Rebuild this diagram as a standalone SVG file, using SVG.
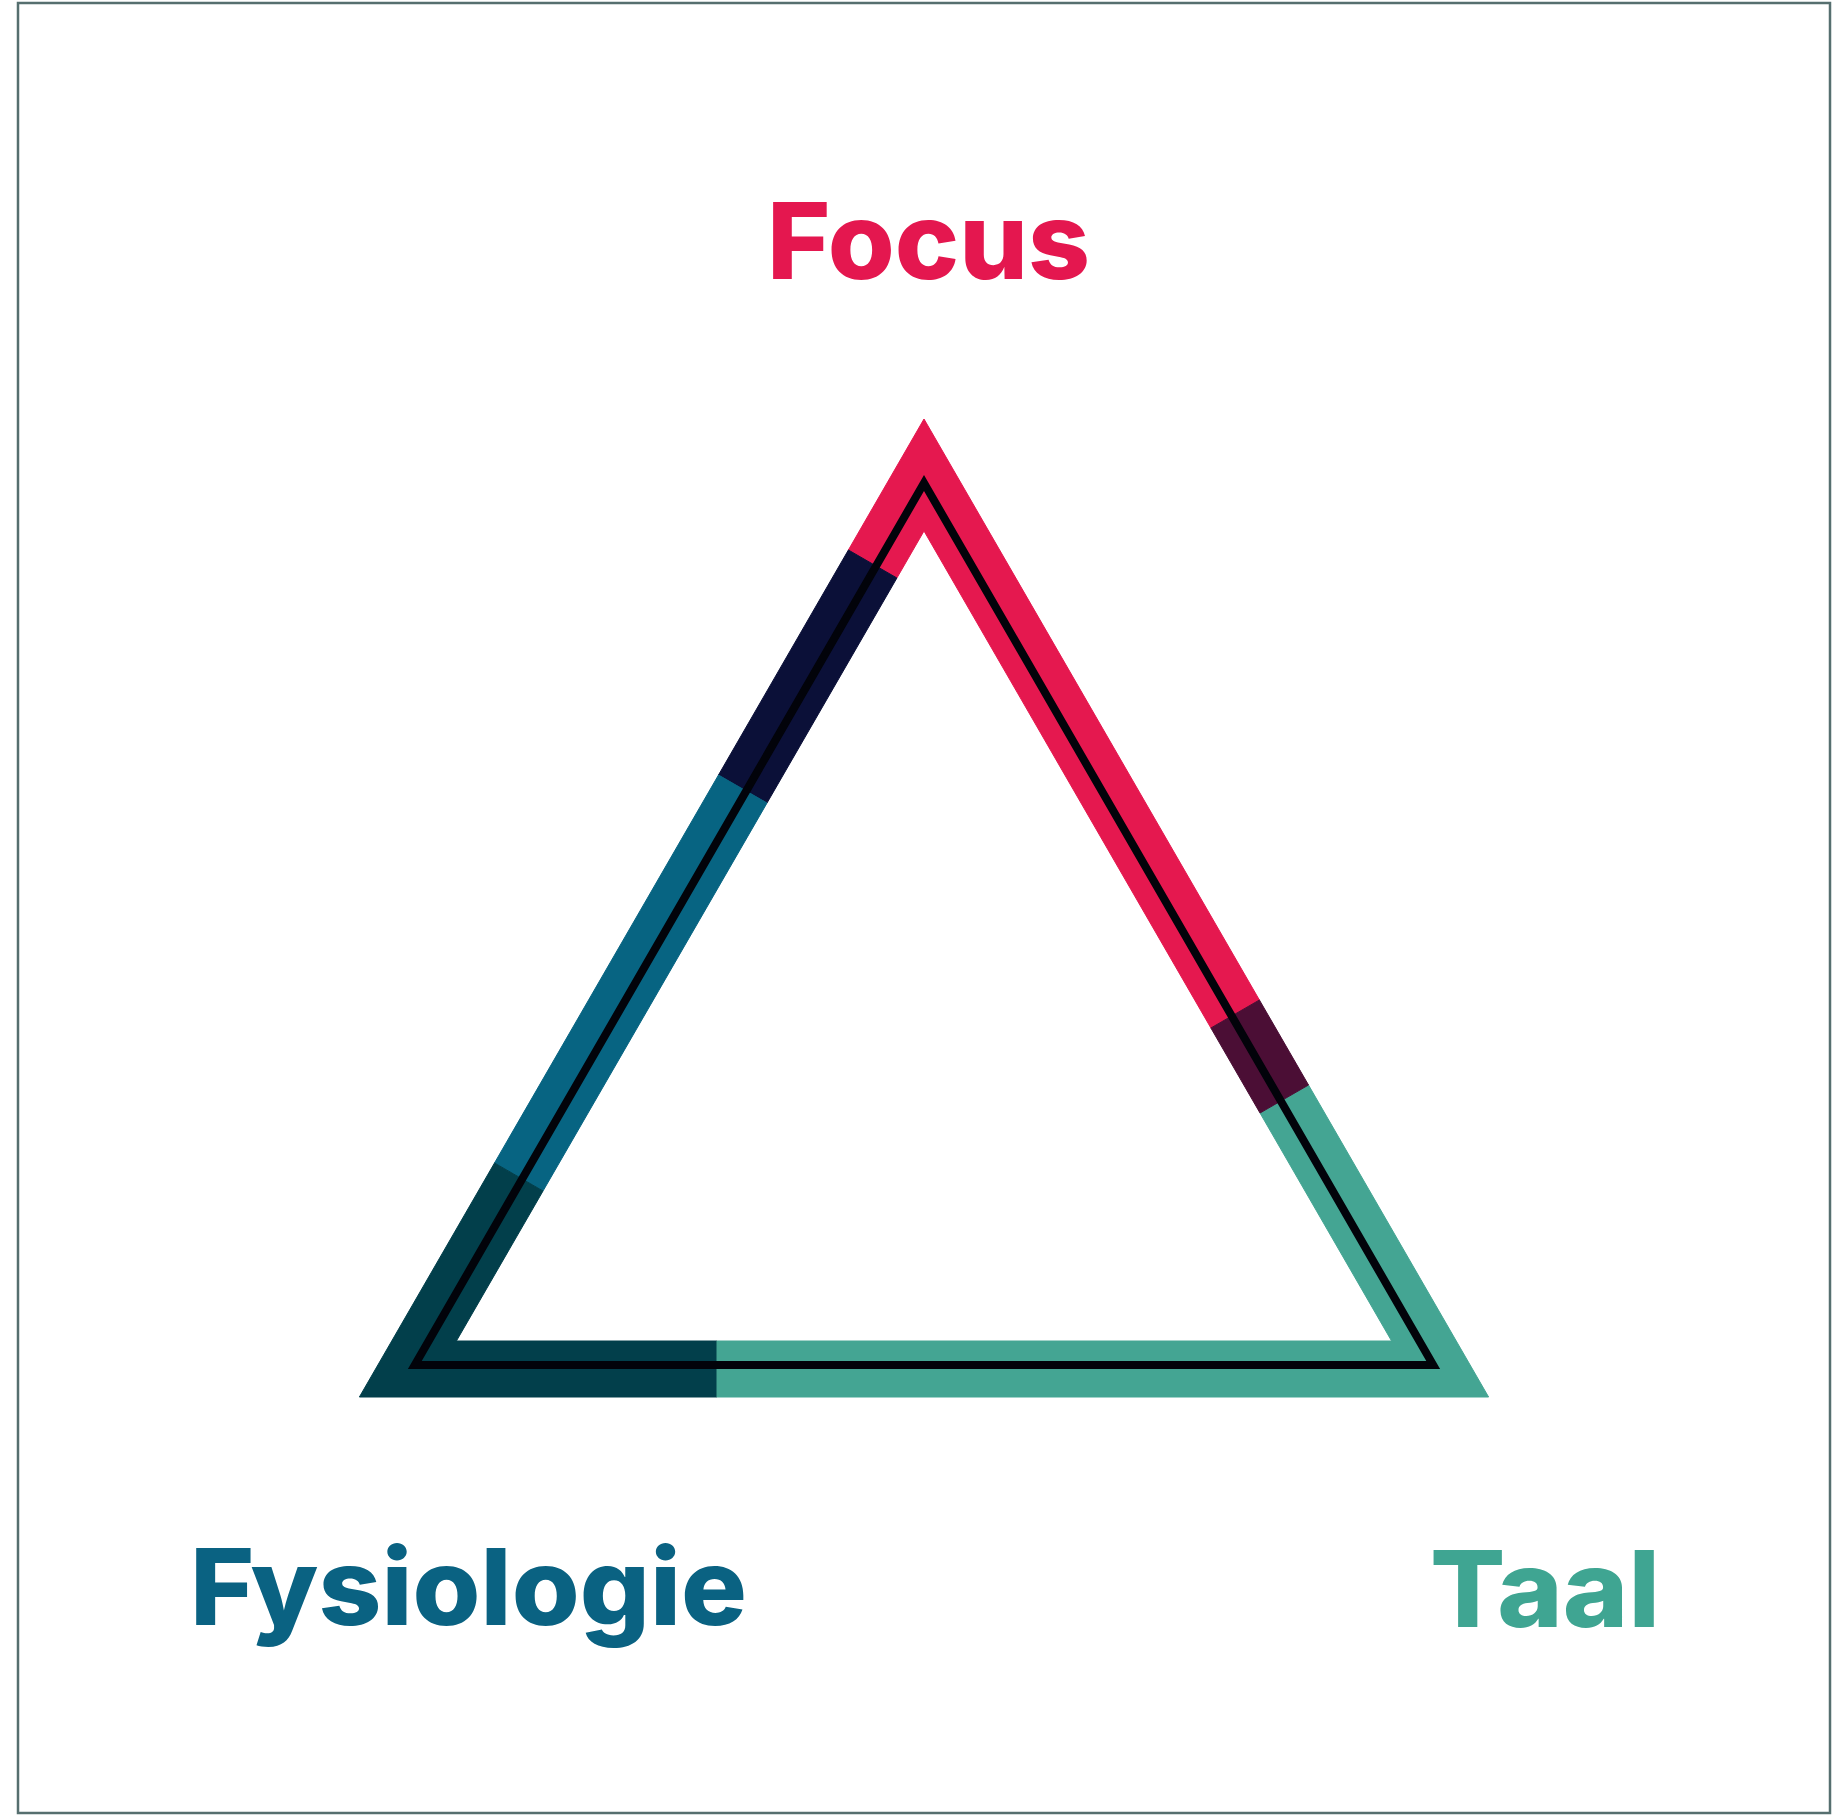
<svg xmlns="http://www.w3.org/2000/svg" width="1843" height="1816" viewBox="0 0 1843 1816">
  <style>
    .lbl { font-family: Inter, "Open Sans", "Liberation Sans", Arial, sans-serif; font-weight: 800; font-size: 106px; }
    .band { stroke-width: 1; stroke-linejoin: miter; }
  </style>
  <rect x="0" y="0" width="1843" height="1816" fill="#ffffff"/>
  <rect id="frame" x="18" y="3" width="1812" height="1810" fill="#ffffff" stroke="#566f6f" stroke-width="2.5"/>

  <g id="connectors">
    <polygon class="band" fill="#E5184F" stroke="#E5184F" points="848.4,550 924,419 1259.4,1000 1210.9,1028 924,531 896.9,578"/>
    <polygon class="band" fill="#0B1038" stroke="#0B1038" points="848.4,550 718.5,775 767,803 896.9,578"/>
    <polygon class="band" fill="#076482" stroke="#076482" points="718.5,775 494.5,1163 543,1191 767,803"/>
    <polygon class="band" fill="#023F4B" stroke="#023F4B" points="494.5,1163 359.4,1397 717,1397 717,1341 456.4,1341 543,1191"/>
    <polygon class="band" fill="#44A593" stroke="#44A593" points="717,1397 1488.6,1397 1308.5,1085 1260,1113 1391.6,1341 717,1341"/>
    <polygon class="band" fill="#4B0E35" stroke="#4B0E35" points="1259.4,1000 1308.5,1085 1260,1113 1210.9,1028"/>
    <polygon fill="none" stroke="#02030a" stroke-width="8" stroke-linejoin="miter" points="924,483 414.8,1365 1433.2,1365"/>
  </g>

  <g id="node-focus">
    <text class="lbl" x="767" y="279" fill="#E4174F" textLength="323" lengthAdjust="spacingAndGlyphs">Focus</text>
  </g>
  <g id="node-fysiologie">
    <text class="lbl" x="190" y="1625" fill="#0A6282" textLength="557" lengthAdjust="spacingAndGlyphs">Fysiologie</text>
  </g>
  <g id="node-taal">
    <text class="lbl" x="1430" y="1627" fill="#3FA592" textLength="230" lengthAdjust="spacingAndGlyphs">Taal</text>
  </g>
</svg>
